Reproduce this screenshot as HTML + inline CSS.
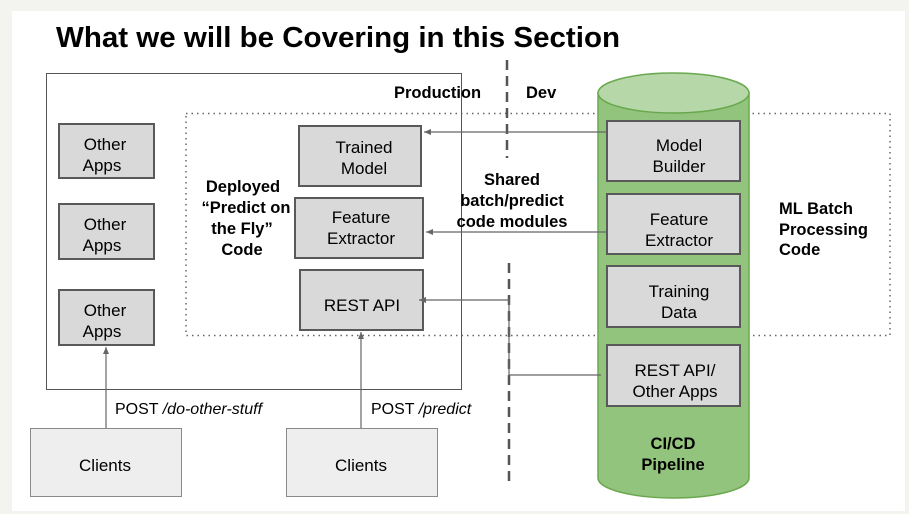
<!DOCTYPE html>
<html><head><meta charset="utf-8"><style>
html,body{margin:0;padding:0;background:#f3f3ef}
svg{display:block}
text{font-family:"Liberation Sans",Arial,sans-serif;fill:#000}
</style></head><body>
<svg width="909" height="514" viewBox="0 0 909 514" xmlns="http://www.w3.org/2000/svg">
<defs><marker id="a" markerWidth="8" markerHeight="8" refX="7" refY="4" orient="auto" markerUnits="userSpaceOnUse"><path d="M0,1 L7,4 L0,7 z" fill="#666"/></marker></defs>
<rect x="12" y="11" width="893" height="500" fill="#fff"/>
<text x="56" y="47" font-size="29" font-weight="bold" textLength="564" lengthAdjust="spacingAndGlyphs">What we will be Covering in this Section</text>
<rect x="46.5" y="73.5" width="415" height="316" fill="none" stroke="#555" stroke-width="1"/>
<rect x="186" y="113.5" width="704" height="222" fill="none" stroke="#666" stroke-width="1.5" stroke-dasharray="1.5,4"/>
<line x1="507" y1="60" x2="507" y2="158" stroke="#555" stroke-width="2.5" stroke-dasharray="10,6"/>
<line x1="509" y1="263" x2="509" y2="482" stroke="#555" stroke-width="2.5" stroke-dasharray="10,6"/>
<text x="394" y="98" font-size="16.5" font-weight="bold">Production</text>
<text x="526" y="98" font-size="16.5" font-weight="bold">Dev</text>
<g fill="#d9d9d9" stroke="#595959" stroke-width="2">
<rect x="59" y="124" width="95" height="54"/>
<rect x="59" y="204" width="95" height="55"/>
<rect x="59" y="290" width="95" height="55"/>
<rect x="299" y="126" width="122" height="60"/>
<rect x="295" y="198" width="128" height="60"/>
<rect x="300" y="270" width="123" height="60"/>
</g>
<g font-size="17" text-anchor="middle">
<text x="105" y="150">Other</text><text x="102" y="171">Apps</text>
<text x="105" y="230">Other</text><text x="102" y="251">Apps</text>
<text x="105" y="316">Other</text><text x="102" y="337">Apps</text>
<text x="364" y="153">Trained</text><text x="364" y="174">Model</text>
<text x="361" y="223">Feature</text><text x="361" y="244">Extractor</text>
<text x="362" y="311">REST API</text>
</g>
<g font-size="16.5" font-weight="bold" text-anchor="middle">
<text x="243" y="192">Deployed</text><text x="246" y="213">“Predict on</text><text x="242" y="234">the Fly”</text><text x="242" y="255">Code</text>
<text x="512" y="185">Shared</text><text x="512" y="206">batch/predict</text><text x="512" y="227">code modules</text>
<text x="779" y="214" text-anchor="start">ML Batch</text><text x="779" y="235" text-anchor="start">Processing</text><text x="779" y="255" text-anchor="start">Code</text>
</g>
<path d="M598,93 L598,478 A75.5,20 0 0 0 749,478 L749,93 Z" fill="#93c47d" stroke="#6aa84f" stroke-width="1.5"/>
<ellipse cx="673.5" cy="93" rx="75.5" ry="20" fill="#b6d7a8" stroke="#6aa84f" stroke-width="1.5"/>
<g fill="#d9d9d9" stroke="#595959" stroke-width="2">
<rect x="607" y="121" width="133" height="60"/>
<rect x="607" y="194" width="133" height="60"/>
<rect x="607" y="266" width="133" height="61"/>
<rect x="607" y="345" width="133" height="61"/>
</g>
<g font-size="17" text-anchor="middle">
<text x="679" y="151">Model</text><text x="679" y="172">Builder</text>
<text x="679" y="225">Feature</text><text x="679" y="246">Extractor</text>
<text x="679" y="297">Training</text><text x="679" y="318">Data</text>
<text x="675" y="376">REST API/</text><text x="675" y="397">Other Apps</text>
</g>
<text x="673" y="449" font-size="16.5" font-weight="bold" text-anchor="middle">CI/CD</text>
<text x="673" y="470" font-size="16.5" font-weight="bold" text-anchor="middle">Pipeline</text>
<g stroke="#666" stroke-width="1.2" fill="none">
<line x1="607" y1="132" x2="424" y2="132" marker-end="url(#a)"/>
<line x1="607" y1="232" x2="426" y2="232" marker-end="url(#a)"/>
<polyline points="601,375 509,375 509,300 419,300" marker-end="url(#a)"/>
<line x1="106" y1="428" x2="106" y2="347" marker-end="url(#a)"/>
<line x1="361" y1="428" x2="361" y2="332" marker-end="url(#a)"/>
</g>
<g fill="#eeeeee" stroke="#8a8a8a" stroke-width="1">
<rect x="30.5" y="428.5" width="151" height="68"/>
<rect x="286.5" y="428.5" width="151" height="68"/>
</g>
<text x="105" y="471" font-size="17" text-anchor="middle">Clients</text>
<text x="361" y="471" font-size="17" text-anchor="middle">Clients</text>
<text x="115" y="414" font-size="16">POST <tspan font-style="italic">/do-other-stuff</tspan></text>
<text x="371" y="414" font-size="16">POST <tspan font-style="italic">/predict</tspan></text>
</svg>
</body></html>
